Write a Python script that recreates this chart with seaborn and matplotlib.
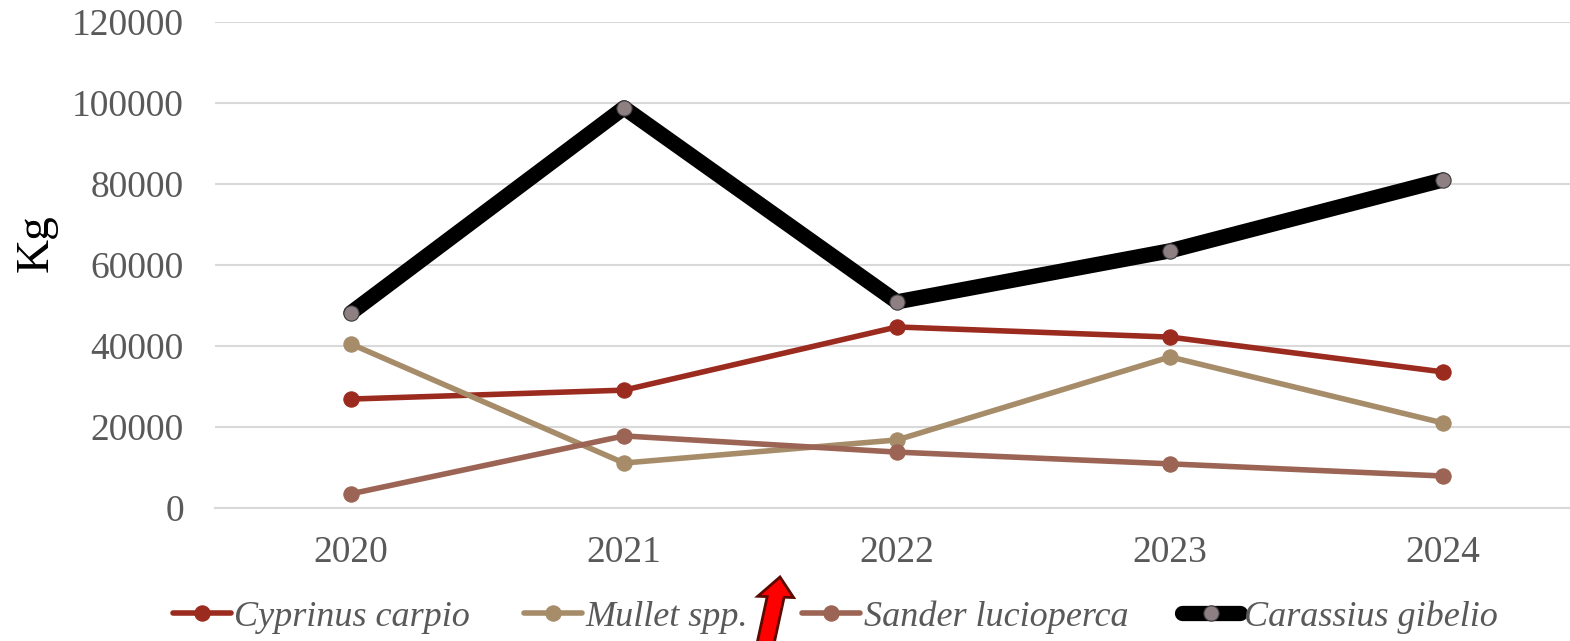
import matplotlib
matplotlib.use("Agg")
import matplotlib.pyplot as plt
import seaborn as sns
from matplotlib.patches import FancyArrow

# Datos
years = ["2020", "2021", "2022", "2023", "2024"]
cyprinus = [26900, 29100, 44700, 42200, 33600]
mullet = [40500, 11100, 16800, 37300, 21000]
sander = [3500, 17800, 13800, 10900, 7900]
carassius = [48200, 98800, 50900, 63500, 81000]

names = ["Cyprinus carpio", "Mullet spp.", "Sander lucioperca", "Carassius gibelio"]

sns.set_style("white")
plt.rcParams['font.family'] = ['Liberation Serif', 'DejaVu Serif']

fig = plt.figure(figsize=(15.7, 6.41), dpi=100)
ax = fig.add_axes([214.5 / 1570, 133 / 641, (1579.5 - 214.5) / 1570, (508 - 22) / 641])

x = list(range(len(years)))

# estilo de cada serie: color de linea, color de marcador, grosor, marcador
estilos = [
    ("#9C2B1F", "#9C2B1F", 4.0, 11),
    ("#A68C69", "#A68C69", 4.0, 11),
    ("#9B6454", "#9B6454", 4.0, 11),
    ("#000000", "#8E8082", 11, 11),
]
series = [cyprinus, mullet, sander, carassius]

for nombre, vals, (lc, mc, lw, ms) in zip(names, series, estilos):
    sns.lineplot(x=x, y=vals, ax=ax, color=lc, linewidth=lw, marker="o",
                 markersize=ms, markerfacecolor=mc,
                 markeredgecolor=mc if lc != "#000000" else "#3a3a3a",
                 markeredgewidth=0.8, label=nombre, solid_capstyle="round")

ax.set_xlim(-0.5, 4.5)
ax.set_ylim(0, 120000)
ax.set_yticks(range(0, 120001, 20000))
ax.set_xticks(x)
ax.set_xticklabels(years)
ax.yaxis.grid(True, color="#d9d9d9", linewidth=1.5)
ax.set_axisbelow(True)
for s in ["top", "right", "left"]:
    ax.spines[s].set_visible(False)
ax.spines["bottom"].set_color("#d9d9d9")
ax.spines["bottom"].set_linewidth(1.5)
ax.tick_params(axis="both", length=0, labelsize=27, colors="#595959")
ax.tick_params(axis="y", pad=22)
ax.tick_params(axis="x", pad=20)
ax.set_ylabel("Kg", fontsize=34, color="black")
ax.yaxis.set_label_coords(-0.115, 0.545)
ax.set_xlabel("")

handles, labels = ax.get_legend_handles_labels()
ax.get_legend().remove()
leg = fig.legend(handles, labels, loc="center", bbox_to_anchor=(0.532, 0.037), ncol=4,
                 frameon=False, handlelength=1.6, handletextpad=0.1,
                 columnspacing=1.5, prop={"style": "italic", "size": 26})
for t in leg.get_texts():
    t.set_color("#595959")

# flecha roja
arrow = FancyArrow(765 / 1570, -5 / 641, 15 / 1570, 69 / 641, width=17 / 1570,
                   head_width=36 / 1570, head_length=20 / 641,
                   length_includes_head=True, transform=fig.transFigure,
                   facecolor="#ff0000", edgecolor="#5a0a00", linewidth=2)
fig.patches.append(arrow)

fig.savefig("out.png", dpi=100)
